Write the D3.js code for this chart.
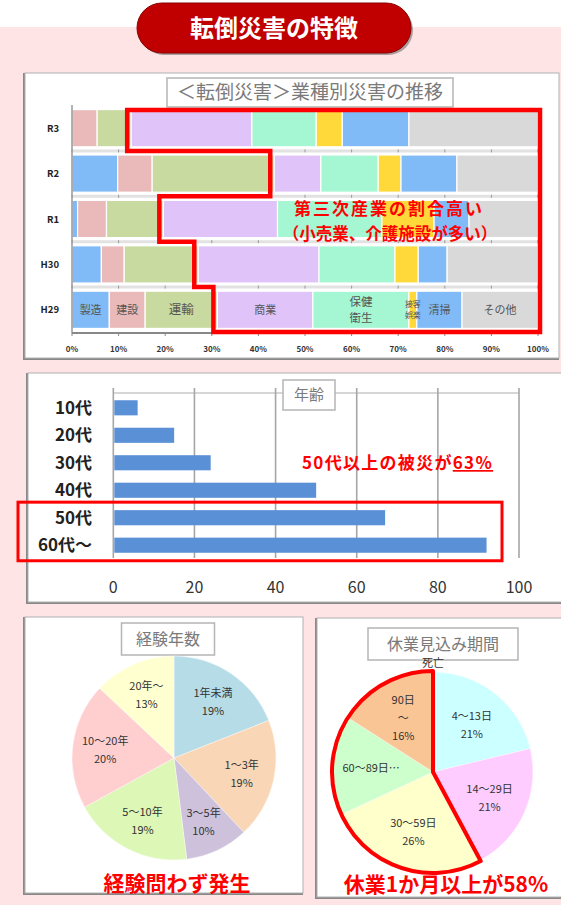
<!DOCTYPE html>
<html>
<head>
<meta charset="utf-8">
<script src="https://cdn.jsdelivr.net/npm/d3@7"></script>
<style>
  html, body { margin: 0; padding: 0; background: #fff; }
  svg { display: block; font-family: "Noto Sans CJK JP", "Noto Sans", sans-serif; }
</style>
</head>
<body>
<svg id="chart" width="561" height="905"></svg>
<script>
// ---- data ----
const years = ['R3', 'R2', 'R1', 'H30', 'H29'];
const industries = ['製造', '建設', '運輸', '商業', '保健衛生', '接客娯楽', '清掃', 'その他'];
const industryLabels = [['製造'], ['建設'], ['運輸'], ['商業'], ['保健', '衛生'], ['接客', '娯楽'], ['清掃'], ['その他']];
// shares in % per year, same order as years
const seizo    = [0.0, 9.8, 1.2, 6.3, 8.0];
const kensetsu = [5.4, 7.4, 6.2, 4.9, 7.7];
const unyu     = [7.3, 26.2, 12.2, 15.9, 15.5];
const shogyo   = [25.9, 10.0, 24.5, 25.9, 20.5];
const hoken    = [13.8, 12.3, 22.4, 16.3, 20.6];
const sekkyaku = [5.6, 4.9, 11.2, 5.0, 1.7];
const seiso    = [14.3, 12.0, 7.5, 6.2, 9.7];
const sonota   = [27.7, 17.4, 14.8, 19.5, 16.3];
const pctTicks = [0, 10, 20, 30, 40, 50, 60, 70, 80, 90, 100];

const ageGroups = ['10代', '20代', '30代', '40代', '50代', '60代～'];
const ageCounts = [6, 15, 24, 50, 67, 92];
const ageTicks = [0, 20, 40, 60, 80, 100];

const expLabels = ['1年未満', '1～3年', '3～5年', '5～10年', '10～20年', '20年～'];
const expValues = [19, 19, 10, 19, 20, 13];

const leaveLabels = ['死亡', '4～13日', '14～29日', '30～59日', '60～89日…', '90日～'];
const leaveValues = [0.3, 21, 21, 26, 16, 16];
const leavePct = ['', '21%', '21%', '26%', '16%', '16%'];

// ---- colours ----
const indColors = ['#80bbf8', '#eab9b9', '#c8daa0', '#e0c3f8', '#a5f6d3', '#ffd83a', '#80bbf8', '#d9d9d9'];
const expColors = ['#b6dce7', '#f9d6b6', '#cdc1dc', '#dcf7b6', '#ffcfd0', '#ffffd0'];
const leaveColors = ['#f2dcdb', '#ccffff', '#ffccff', '#ffffcc', '#ccffcc', '#fac595'];
const RED = '#ff0000';

const svg = d3.select('#chart');

// pink background + header
svg.append('rect').attr('x', 0).attr('y', 27).attr('width', 561).attr('height', 878).attr('fill', '#fee4e4');

const header = svg.append('g');
header.append('rect')
  .attr('x', 139).attr('y', 5).attr('width', 274).attr('height', 50).attr('rx', 25)
  .attr('fill', '#555').attr('opacity', 0.5);
header.append('rect')
  .attr('x', 137).attr('y', 3).attr('width', 274).attr('height', 50).attr('rx', 25)
  .attr('fill', '#c00000').attr('stroke', '#8a0000').attr('stroke-width', 1);
header.append('text')
  .attr('x', 274).attr('y', 37).attr('text-anchor', 'middle')
  .attr('fill', '#fff').attr('font-size', 24).attr('font-weight', 'bold')
  .text('転倒災害の特徴');

function panel(x, y, w, h) {
  svg.append('rect').attr('x', x - 1).attr('y', y + 1).attr('width', w).attr('height', h)
    .attr('fill', 'none').attr('stroke', '#888').attr('stroke-width', 2);
  svg.append('rect').attr('x', x).attr('y', y).attr('width', w).attr('height', h)
    .attr('fill', '#fff').attr('stroke', '#b0b0b0').attr('stroke-width', 1);
}

function titleBox(cx, y, w, h, label, size) {
  svg.append('rect').attr('x', cx - w / 2).attr('y', y).attr('width', w).attr('height', h)
    .attr('fill', '#fff').attr('stroke', '#b5b5b5').attr('stroke-width', 1.5);
  svg.append('text').attr('x', cx).attr('y', y + h / 2 + size * 0.36)
    .attr('text-anchor', 'middle').attr('font-size', size).attr('fill', '#7a7a7a')
    .text(label);
}

// ================= chart 1 : stacked 100% bars =================
panel(25, 73, 534, 285);
titleBox(310, 78, 286, 29, '＜転倒災害＞業種別災害の推移', 19);

const series = [seizo, kensetsu, unyu, shogyo, hoken, sekkyaku, seiso, sonota];
const rows = years.map((yr, i) => {
  const o = { year: yr };
  industries.forEach((k, j) => { o[k] = series[j][i]; });
  return o;
});
const stacked = d3.stack().keys(industries)(rows);

const x1 = d3.scaleLinear().domain([0, 100]).range([72, 538]);
const y1 = d3.scaleBand().domain(years).range([105.5, 332.5]).paddingInner(0.18).paddingOuter(0.09);
const g1 = svg.append('g');

// row separators with little ticks
years.forEach((yr, i) => {
  if (i === 0) return;
  const yy = y1(yr) - (y1.step() - y1.bandwidth()) / 2;
  g1.append('line').attr('x1', x1(0)).attr('x2', x1(100)).attr('y1', yy).attr('y2', yy)
    .attr('stroke', '#e2e2e2').attr('stroke-width', 3);
  pctTicks.forEach(t => {
    g1.append('line').attr('x1', x1(t)).attr('x2', x1(t)).attr('y1', yy - 1.5).attr('y2', yy + 1.5)
      .attr('stroke', '#999').attr('stroke-width', 1);
  });
});

g1.selectAll('g.layer')
  .data(stacked)
  .join('g')
  .attr('class', 'layer')
  .attr('fill', (d, i) => indColors[i])
  .selectAll('rect')
  .data(d => d)
  .join('rect')
  .attr('x', d => x1(d[0]))
  .attr('width', d => Math.max(0, x1(d[1]) - x1(d[0])))
  .attr('y', d => y1(d.data.year))
  .attr('height', y1.bandwidth())
  .attr('stroke', '#fff')
  .attr('stroke-width', 1.2);

// axes
g1.append('line').attr('x1', x1(0)).attr('x2', x1(0)).attr('y1', 105).attr('y2', 333)
  .attr('stroke', '#999').attr('stroke-width', 1.5);
g1.append('line').attr('x1', x1(0)).attr('x2', x1(100)).attr('y1', 333).attr('y2', 333)
  .attr('stroke', '#888').attr('stroke-width', 2);
pctTicks.forEach(t => {
  g1.append('line').attr('x1', x1(t)).attr('x2', x1(t)).attr('y1', 333).attr('y2', 336)
    .attr('stroke', '#888').attr('stroke-width', 1);
  g1.append('text').attr('x', x1(t)).attr('y', 352).attr('text-anchor', 'middle')
    .attr('font-size', 8).attr('font-weight', 'bold').attr('fill', '#333').text(t + '%');
});
years.forEach(yr => {
  g1.append('text').attr('x', 59).attr('y', y1(yr) + y1.bandwidth() / 2 + 3.5)
    .attr('text-anchor', 'end').attr('font-size', 9.5).attr('font-weight', 'bold').attr('fill', '#222')
    .text(yr);
});

// segment labels on the H29 row
const lastRow = years[years.length - 1];
stacked.forEach((layer, j) => {
  const d = layer[years.length - 1];
  const cx = (x1(d[0]) + x1(d[1])) / 2;
  const cy = y1(lastRow) + y1.bandwidth() / 2;
  const lines = industryLabels[j];
  const small = industries[j] === '接客娯楽';
  const fs = small ? 8 : (lines.length > 1 ? 11.5 : (industries[j] === '運輸' ? 12.5 : 11));
  const lh = fs * 1.45;
  lines.forEach((ln, k) => {
    g1.append('text').attr('x', cx)
      .attr('y', cy + (k - (lines.length - 1) / 2) * lh + fs * 0.36)
      .attr('text-anchor', 'middle').attr('font-size', fs).attr('fill', '#555')
      .text(ln);
  });
});

// red stepped outline around the tertiary-industry part
const shogyoLayer = stacked[industries.indexOf('商業')];
const leftX = shogyoLayer.map(d => x1(d[0]) - 4);
const gapY = i => y1(years[i]) + y1.bandwidth() + (y1.step() - y1.bandwidth()) / 2;
const topY = y1(years[0]) + 0.5;
const botY = y1(lastRow) + y1.bandwidth() + 3.5;
const rightX = x1(100) + 2;
const pts = [[leftX[0], topY], [rightX, topY], [rightX, botY], [leftX[4], botY]];
for (let i = years.length - 1; i > 0; i--) {
  pts.push([leftX[i], gapY(i - 1)]);
  pts.push([leftX[i - 1], gapY(i - 1)]);
}
g1.append('path')
  .attr('d', 'M' + pts.map(p => p.join(',')).join('L') + 'Z')
  .attr('fill', 'none').attr('stroke', RED).attr('stroke-width', 4.5).attr('stroke-linejoin', 'miter');

g1.append('text').attr('x', 389).attr('y', 215).attr('text-anchor', 'middle')
  .attr('font-size', 17).attr('font-weight', 'bold').attr('letter-spacing', 2).attr('fill', RED)
  .text('第三次産業の割合高い');
g1.append('text').attr('x', 390).attr('y', 240).attr('text-anchor', 'middle')
  .attr('font-size', 16.5).attr('font-weight', 'bold').attr('fill', RED).text('（小売業、介護施設が多い）');

// ================= chart 2 : age bars =================
panel(28, 373, 545, 229);

const x2 = d3.scaleLinear().domain([0, 100]).range([113.3, 519]);
const y2 = d3.scaleBand().domain(ageGroups).range([386.5, 566.5]).paddingInner(0.45).paddingOuter(0.5);
const g2 = svg.append('g');

g2.append('line').attr('x1', x2(0)).attr('x2', x2(100)).attr('y1', 393).attr('y2', 393)
  .attr('stroke', '#c8c8c8').attr('stroke-width', 1.5);
ageTicks.forEach(t => {
  g2.append('line').attr('x1', x2(t)).attr('x2', x2(t)).attr('y1', 388).attr('y2', 558)
    .attr('stroke', '#a6a6a6').attr('stroke-width', 1.6);
  g2.append('text').attr('x', x2(t)).attr('y', 593).attr('text-anchor', 'middle')
    .attr('font-size', 16).attr('fill', '#333').text(t);
});
titleBox(309, 380, 52, 30, '年齢', 15);

g2.selectAll('rect.bar')
  .data(ageCounts)
  .join('rect')
  .attr('class', 'bar')
  .attr('x', x2(0) + 1)
  .attr('y', (d, i) => y2(ageGroups[i]))
  .attr('width', d => x2(d) - x2(0) - 1)
  .attr('height', y2.bandwidth())
  .attr('fill', '#5990d6');

ageGroups.forEach(a => {
  g2.append('text').attr('x', 92).attr('y', y2(a) + y2.bandwidth() / 2 + 6)
    .attr('text-anchor', 'end').attr('font-size', 17).attr('font-weight', 'bold').attr('fill', '#222')
    .text(a);
});

const note2 = g2.append('text').attr('x', 302).attr('y', 469)
  .attr('font-size', 17).attr('font-weight', 'bold').attr('letter-spacing', 1.3).attr('fill', RED);
note2.append('tspan').text('50代以上の被災が');
note2.append('tspan').attr('text-decoration', 'underline').text('63%');

g2.append('rect')
  .attr('x', 18).attr('y', y2('50代') - 8).attr('width', 484)
  .attr('height', y2('60代～') + y2.bandwidth() + 8 - (y2('50代') - 8))
  .attr('fill', 'none').attr('stroke', RED).attr('stroke-width', 3);

// ================= pies =================
function drawPie(opts) {
  const g = svg.append('g').attr('transform', `translate(${opts.cx},${opts.cy})`);
  const pie = d3.pie().sort(null).value(d => d)(opts.values);
  const arc = d3.arc().innerRadius(0).outerRadius(opts.r);
  const labelArc = d3.arc().innerRadius(opts.r * opts.lr).outerRadius(opts.r * opts.lr);
  g.selectAll('path.slice')
    .data(pie)
    .join('path')
    .attr('class', 'slice')
    .attr('d', arc)
    .attr('fill', (d, i) => opts.colors[i])
    .attr('stroke', '#fff').attr('stroke-width', 0.4);
  return { g, pie, labelArc };
}

// chart 3 : experience
panel(25, 617, 278, 276);
titleBox(168, 623, 93, 32, '経験年数', 16);
const p3 = drawPie({ cx: 174, cy: 758, r: 102, values: expValues, colors: expColors, lr: 0.68 });
p3.pie.forEach((d, i) => {
  const [lx, ly] = p3.labelArc.centroid(d);
  const t = p3.g.append('text').attr('text-anchor', 'middle').attr('font-size', 11).attr('fill', '#333');
  t.append('tspan').attr('x', lx).attr('y', ly - 4).text(expLabels[i]);
  t.append('tspan').attr('x', lx).attr('y', ly + 14).text(expValues[i] + '%');
});
svg.append('text').attr('x', 177).attr('y', 891).attr('text-anchor', 'middle')
  .attr('font-size', 21).attr('font-weight', 'bold').attr('fill', RED).text('経験問わず発生');

// chart 4 : expected leave period
panel(317, 618, 250, 279);
titleBox(443, 628, 150, 32, '休業見込み期間', 16);
const p4 = drawPie({ cx: 433, cy: 772, r: 100, values: leaveValues, colors: leaveColors, lr: 0.62 });
p4.pie.forEach((d, i) => {
  const lab = leaveLabels[i];
  const t = p4.g.append('text').attr('text-anchor', 'middle').attr('font-size', 11).attr('fill', '#333');
  if (lab === '死亡') {
    t.append('tspan').attr('x', 0).attr('y', -105).text(lab);
    return;
  }
  const [lx, ly] = p4.labelArc.centroid(d);
  if (lab.endsWith('…')) {
    t.append('tspan').attr('x', lx).attr('y', ly + 4).text(lab);
  } else if (lab === '90日～') {
    t.append('tspan').attr('x', lx).attr('y', ly - 14).text('90日');
    t.append('tspan').attr('x', lx).attr('y', ly + 4).text('～');
    t.append('tspan').attr('x', lx).attr('y', ly + 22).text(leavePct[i]);
  } else {
    t.append('tspan').attr('x', lx).attr('y', ly - 4).text(lab);
    t.append('tspan').attr('x', lx).attr('y', ly + 14).text(leavePct[i]);
  }
});
// red outline around 1 month and longer
const startIdx = leaveLabels.indexOf('30～59日');
p4.g.append('path')
  .attr('d', d3.arc().innerRadius(0).outerRadius(101)({
    startAngle: p4.pie[startIdx].startAngle,
    endAngle: p4.pie[p4.pie.length - 1].endAngle
  }))
  .attr('fill', 'none').attr('stroke', RED).attr('stroke-width', 4).attr('stroke-linejoin', 'round');

svg.append('text').attr('x', 446).attr('y', 892).attr('text-anchor', 'middle')
  .attr('font-size', 21).attr('font-weight', 'bold').attr('fill', RED).text('休業1か月以上が58%');
</script>
</body>
</html>
